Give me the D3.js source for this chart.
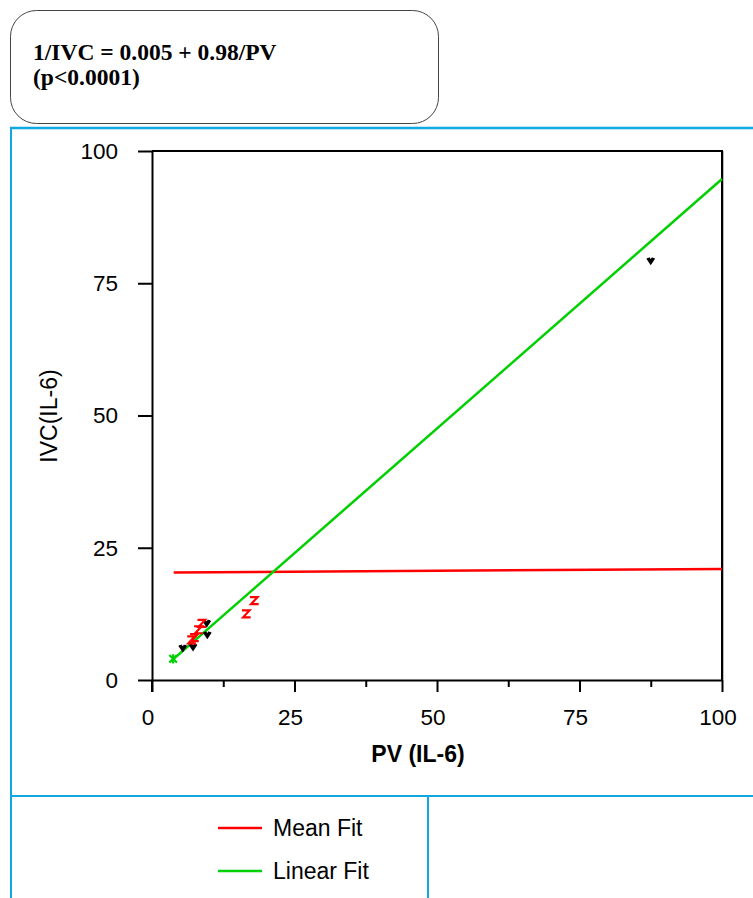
<!DOCTYPE html>
<html><head><meta charset="utf-8">
<script src="https://d3js.org/d3.v7.min.js"></script>
<style>
body{margin:0;background:#fff;}
svg text{font-family:'Liberation Sans',Arial,sans-serif;}
.eq{font-family:'Liberation Serif','Times New Roman',serif !important;font-weight:bold;font-size:23.5px;}
.axis path,.axis line{stroke:#000;stroke-width:2;}
.axis text{font-size:22.5px;fill:#000;}
</style></head><body>
<svg id="chart"></svg>
<script>
// values
var xTicks=[0,25,50,75,100], yTicks=[0,25,50,75,100];
var blackPts=[[5.4,6.0],[7.2,6.2],[9.7,8.5],[9.6,10.7],[87.5,79.2]];
var redPts=[[6.9,7.6],[7.4,8.0],[8.1,9.5],[8.7,10.7],[16.5,12.5],[17.9,15.0]];
var greenPts=[[3.7,4.0]];
var meanFit=[[3.8,20.3],[100,21.0]];
var linFit=[[3.6,3.8],[100,94.7]];
var legendNames=['Mean Fit','Linear Fit'], legendCols=['#ff0000','#00d000'];

var W=753,H=898;
var svg=d3.select('#chart').attr('width',W).attr('height',H);
var x=d3.scaleLinear().domain([0,100]).range([152,722]),
    y=d3.scaleLinear().domain([0,100]).range([680,151]);

// equation box
svg.append('rect').attr('x',10.5).attr('y',10.5).attr('width',428).attr('height',113)
   .attr('rx',26).attr('fill','none').attr('stroke','#444').attr('stroke-width',1);
svg.append('text').attr('class','eq').attr('x',33).attr('y',60).text('1/IVC = 0.005 + 0.98/PV');
svg.append('text').attr('class','eq').attr('x',33).attr('y',85).text('(p<0.0001)');

// blue panel frame
var blue='#10a8e0';
svg.append('line').attr('x1',10).attr('x2',753).attr('y1',128).attr('y2',128).attr('stroke',blue).attr('stroke-width',2.5);
svg.append('line').attr('x1',11).attr('x2',11).attr('y1',127).attr('y2',898).attr('stroke',blue).attr('stroke-width',2);
svg.append('line').attr('x1',10).attr('x2',753).attr('y1',796).attr('y2',796).attr('stroke',blue).attr('stroke-width',2);
svg.append('line').attr('x1',428).attr('x2',428).attr('y1',796).attr('y2',898).attr('stroke',blue).attr('stroke-width',2);

// frame top/right
svg.append('path').attr('d','M'+x(0)+','+y(100)+'H'+x(100)+'V'+y(0))
   .attr('fill','none').attr('stroke','#000').attr('stroke-width',2);
svg.append('line').attr('x1',x(100)+1.5).attr('x2',x(100)+1.5).attr('y1',y(100)).attr('y2',y(0))
   .attr('stroke','#bbb').attr('stroke-width',1);

// axes
svg.append('g').attr('class','axis').attr('transform','translate(0,'+y(0)+')')
   .call(d3.axisBottom(x).tickValues([12.5,37.5,62.5,87.5]).tickSize(7).tickFormat(''))
   .select('.domain').remove();
var gx=svg.append('g').attr('class','axis').attr('transform','translate(0,'+y(0)+')')
   .call(d3.axisBottom(x).tickValues(xTicks).tickSize(12).tickSizeOuter(0).tickPadding(17));
gx.selectAll('text').attr('dx','-0.2em');
svg.append('g').attr('class','axis').attr('transform','translate('+x(0)+',0)')
   .call(d3.axisLeft(y).tickValues(yTicks).tickSize(14).tickSizeOuter(0).tickPadding(20))
   .selectAll('text').attr('dy','0.33em');
svg.append('line').attr('x1',x(0)).attr('x2',x(0)).attr('y1',y(0)).attr('y2',y(0)+12).attr('stroke','#000').attr('stroke-width',2);

// axis titles
svg.append('text').attr('x',418).attr('y',762).attr('text-anchor','middle')
   .style('font-weight','bold').style('font-size','23px').text('PV (IL-6)');
svg.append('text').attr('transform','translate(57,416) rotate(-90)').attr('text-anchor','middle')
   .style('font-size','23px').text('IVC(IL-6)');

// fit lines
var line=d3.line().x(d=>x(d[0])).y(d=>y(d[1]));
svg.append('path').datum(meanFit).attr('d',line).attr('stroke','#ff0000').attr('stroke-width',2.5).attr('fill','none');
svg.append('path').datum(linFit).attr('d',line).attr('stroke','#00d000').attr('stroke-width',2.5).attr('fill','none');

// point markers
function marks(data,shape,col,sw){
  svg.append('g').selectAll('path').data(data).enter().append('path')
     .attr('transform',d=>'translate('+x(d[0])+','+y(d[1])+')')
     .attr('d',shape).attr('fill','none').attr('stroke',col)
     .attr('stroke-width',sw).attr('stroke-linecap','square');
}
marks(blackPts,'M-3,-2L0,2.5L3,-2M-1.5,-2.5L0,0L1.5,-2.5','#000',2);
marks(redPts,'M-3,-3.5H3.5L-3,3.5H3.5','#ff0000',2.2);
marks(greenPts,'M-3,-3L3,3M-3,3L3,-3M0,-3.5V3.5','#00d000',2.2);

// legend
var lg=svg.append('g').selectAll('g').data(legendNames).enter().append('g')
   .attr('transform',(d,i)=>'translate(218,'+(828+i*43)+')');
lg.append('line').attr('x1',0).attr('x2',44).attr('stroke',(d,i)=>legendCols[i]).attr('stroke-width',2.5);
lg.append('text').attr('x',55).attr('dy','0.35em').style('font-size','23px').text(d=>d);
</script>
</body></html>
